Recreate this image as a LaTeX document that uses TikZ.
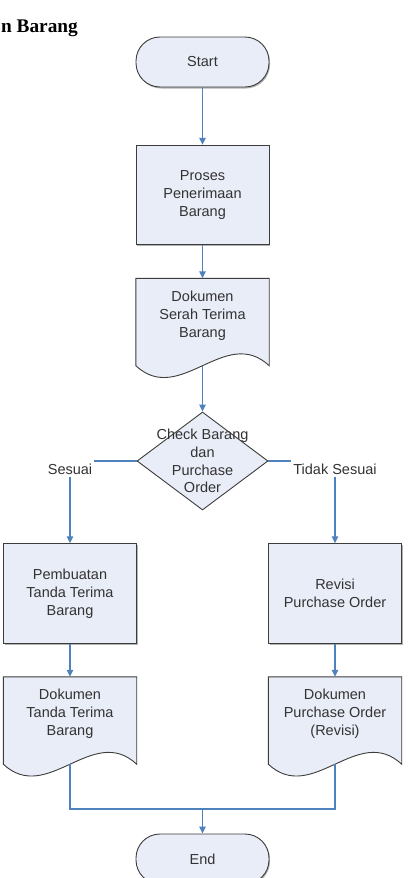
\documentclass[tikz,border=0pt]{standalone}
\usepackage{fontspec}
\setmainfont{Liberation Sans}
\newfontfamily\titlefont{Liberation Serif}
\usetikzlibrary{arrows.meta,calc,positioning,shapes.geometric,backgrounds,shadows}
\definecolor{boxfill}{RGB}{233,237,247}
\definecolor{boxline}{RGB}{60,60,60}
\definecolor{flowblue}{RGB}{79,129,189}

\tikzset{
    every node/.style={font=\fontsize{14.5}{17.8}\selectfont, text=black!80},
    softshadow/.style={drop shadow={shadow xshift=1pt, shadow yshift=-1.5pt, fill=black!30, opacity=1}},
    terminal/.style={draw=boxline, fill=boxfill, line width=0.9pt, rounded corners=24pt, minimum width=133pt, minimum height=50pt, softshadow},
    process/.style={draw=boxline, fill=boxfill, line width=0.9pt, minimum width=133pt, minimum height=99.5pt, align=center, softshadow},
    docbox/.style={minimum width=133pt, minimum height=74pt, inner sep=0pt, align=center},
    decision/.style={diamond, draw=boxline, fill=boxfill, line width=0.9pt, minimum width=131pt, minimum height=98pt, inner sep=0pt},
    branch/.style={fill=white, inner sep=2pt},
    flow/.style={draw=flowblue, line width=1.3pt, -{Triangle[length=7pt,width=6.5pt]}},
    link/.style={draw=flowblue, line width=1.3pt}
}

% document shape with wavy bottom
\newcommand{\docshape}[1]{%
    \filldraw[fill=boxfill, draw=boxline, line width=0.9pt] (#1.north west) -- (#1.north east)
        -- ($(#1.south east)+(0,13)$)
        .. controls ($(#1.south east)+(-44,-28)$) and ($(#1.south west)+(44,54)$) .. ($(#1.south west)+(0,13)$)
        -- cycle;}

\begin{document}
\begin{tikzpicture}[x=1pt, y=-1pt]
    \useasboundingbox (0,0) rectangle (409,878);

    % Judul
    \node[font=\titlefont\bfseries\fontsize{19.3}{23}\selectfont, text=black, anchor=base east, inner sep=0pt] (judul) at (78,32) {n Barang};

    % Start
    \node[terminal] (start) at (202.5,62) {Start};
    \node[process] (proses) at (202.5,195) {Proses\\Penerimaan\\Barang};
    \node[docbox] (dserah) at (202.5,315.5) {Dokumen\\Serah Terima\\Barang};

    % Check
    \node[decision, label={[align=center]center:Check Barang\\dan\\Purchase\\Order}] (cek) at (202.5,461) {};
    \node[branch] (sesuai) at (70,469) {Sesuai};
    \node[branch] (tidak) at (335,469) {Tidak Sesuai};

    % Sesuai
    \node[process] (tanda) at (70,593.5) {Pembuatan\\Tanda Terima\\Barang};
    \node[docbox] (dtanda) at (70,714) {Dokumen\\Tanda Terima\\Barang};

    % Tidak Sesuai
    \node[process] (revisi) at (335,593.5) {Revisi\\Purchase Order};
    \node[docbox] (drevisi) at (335,714) {Dokumen\\Purchase Order\\(Revisi)};

    % End
    \coordinate (gabung) at (202.5,809);
    \node[terminal] (end) at (202.5,859) {End};

    \begin{scope}[on background layer]
        \docshape{dserah}
        \docshape{dtanda}
        \docshape{drevisi}
    \end{scope}

    % Alur
    \draw[flow] (start) -- (proses);
    \draw[flow] (proses) -- (dserah);
    \draw[flow, shorten <=13pt] (dserah) -- (cek);
    \draw[link] (cek.west) -- (cek.west -| sesuai.east);
    \draw[link] (cek.east) -- (cek.east -| tidak.west);
    \draw[flow] (sesuai) -- (tanda);
    \draw[flow] (tidak) -- (revisi);
    \draw[flow] (tanda) -- (dtanda);
    \draw[flow] (revisi) -- (drevisi);
    \draw[link, shorten <=13pt] (dtanda.south) |- (gabung);
    \draw[link, shorten <=13pt] (drevisi.south) |- (gabung);
    \draw[flow] (gabung) -- (end);
\end{tikzpicture}
\end{document}
